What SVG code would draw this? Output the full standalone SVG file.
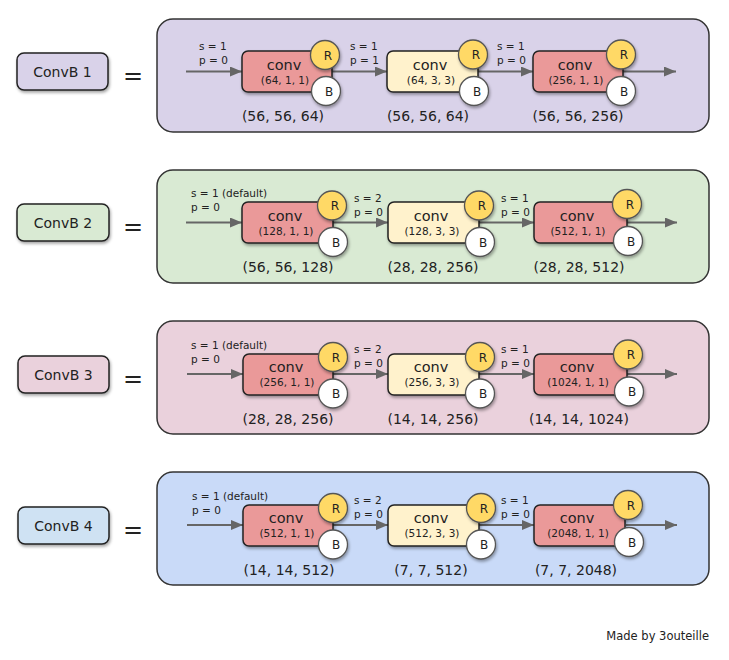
<svg xmlns="http://www.w3.org/2000/svg" width="729" height="660" viewBox="0 0 729 660">
<style>
text{font-family:"DejaVu Sans","Liberation Sans",sans-serif;fill:#222}
.panel{stroke:#333;stroke-width:1.5}
.lbl{stroke:#222;stroke-width:1.5}
.lbltxt{font-size:14px;text-anchor:middle}
.eq{font-size:24px;text-anchor:middle}
.red{fill:#ea9999;stroke:#222;stroke-width:1.5}
.yel{fill:#fff2cc;stroke:#222;stroke-width:1.5}
.r{fill:#ffd966;stroke:#555;stroke-width:1.3}
.b{fill:#ffffff;stroke:#555;stroke-width:1.3}
.conv{font-size:14.5px;text-anchor:middle}
.par{font-size:10.5px;text-anchor:middle}
.rb{font-size:12px;text-anchor:middle}
.sp{font-size:10.5px}
.dim{font-size:14px;text-anchor:middle}
.arr{stroke:#666;stroke-width:2;fill:none;marker-end:url(#ah)}
.sh{filter:url(#shadow)}
</style>
<defs>
<marker id="ah" viewBox="0 0 12 10" refX="12" refY="5" markerWidth="12" markerHeight="10" markerUnits="userSpaceOnUse" orient="auto">
<path d="M0,0 L12,5 L0,10 z" fill="#666"/>
</marker>
<filter id="shadow" x="-20%" y="-20%" width="150%" height="160%">
<feDropShadow dx="1" dy="2" stdDeviation="1.5" flood-color="#000" flood-opacity="0.35"/>
</filter>
</defs>
<rect width="729" height="660" fill="#ffffff"/>

<!-- Row 1 -->
<g id="row1">
<g id="panel1"><rect class="panel" x="157" y="19" width="552" height="113" rx="16" fill="#d9d2e9"/></g>
<g id="label1"><rect class="lbl sh" x="17" y="53" width="91" height="37" rx="7" fill="#d9d2e9"/><text class="lbltxt" x="62.5" y="77">ConvB 1</text></g>
<text class="eq" x="133" y="84">=</text>
<g id="connectors1">
<line class="arr" x1="186" y1="71.5" x2="242" y2="71.5"/>
<line class="arr" x1="332" y1="71.5" x2="387" y2="71.5"/>
<line class="arr" x1="478" y1="71.5" x2="533" y2="71.5"/>
<line class="arr" x1="623" y1="71.5" x2="676" y2="71.5"/>
<text class="sp" x="199" y="50">s = 1</text><text class="sp" x="199" y="64">p = 0</text>
<text class="sp" x="350" y="50">s = 1</text><text class="sp" x="350" y="64">p = 1</text>
<text class="sp" x="497" y="50">s = 1</text><text class="sp" x="497" y="64">p = 0</text>
</g>
<g id="conv1a"><rect class="red sh" x="242" y="51" width="90" height="41" rx="6"/><text class="conv" x="284" y="69.5">conv</text><text class="par" x="285" y="83.5">(64, 1, 1)</text>
<circle class="r sh" cx="325" cy="55" r="14.5"/><text class="rb" x="328" y="59.5">R</text>
<circle class="b sh" cx="326" cy="91" r="14.5"/><text class="rb" x="329" y="95.5">B</text>
<text class="dim" x="283" y="121">(56, 56, 64)</text></g>
<g id="conv1b"><rect class="yel sh" x="387" y="51" width="91" height="41" rx="6"/><text class="conv" x="430" y="69.5">conv</text><text class="par" x="431" y="83.5">(64, 3, 3)</text>
<circle class="r sh" cx="473" cy="54.5" r="14.5"/><text class="rb" x="476" y="59">R</text>
<circle class="b sh" cx="474" cy="91" r="14.5"/><text class="rb" x="477" y="95.5">B</text>
<text class="dim" x="428" y="121">(56, 56, 64)</text></g>
<g id="conv1c"><rect class="red sh" x="533" y="51" width="90" height="41" rx="6"/><text class="conv" x="575" y="69.5">conv</text><text class="par" x="576" y="83.5">(256, 1, 1)</text>
<circle class="r sh" cx="621" cy="54.5" r="14.5"/><text class="rb" x="624" y="59">R</text>
<circle class="b sh" cx="621" cy="91" r="14.5"/><text class="rb" x="624" y="95.5">B</text>
<text class="dim" x="578" y="121">(56, 56, 256)</text></g>
</g>

<!-- Row 2 -->
<g id="row2" transform="translate(0,151)">
<g id="panel2"><rect class="panel" x="157" y="19" width="552" height="113" rx="16" fill="#d9ead3"/></g>
<g id="label2"><rect class="lbl sh" x="17" y="53" width="92" height="37" rx="7" fill="#d9ead3"/><text class="lbltxt" x="63" y="77">ConvB 2</text></g>
<text class="eq" x="133" y="84">=</text>
<g id="connectors2">
<line class="arr" x1="186" y1="71.5" x2="242" y2="71.5"/>
<line class="arr" x1="333" y1="71.5" x2="388" y2="71.5"/>
<line class="arr" x1="479" y1="71.5" x2="534" y2="71.5"/>
<line class="arr" x1="627" y1="71.5" x2="677" y2="71.5"/>
<text class="sp" x="191" y="46">s = 1 (default)</text><text class="sp" x="191" y="60">p = 0</text>
<text class="sp" x="354" y="50.5">s = 2</text><text class="sp" x="354" y="64.5">p = 0</text>
<text class="sp" x="501" y="50.5">s = 1</text><text class="sp" x="501" y="64.5">p = 0</text>
</g>
<g id="conv2a"><rect class="red sh" x="242" y="51" width="91" height="41" rx="6"/><text class="conv" x="285" y="69.5">conv</text><text class="par" x="286" y="83.5">(128, 1, 1)</text>
<circle class="r sh" cx="332" cy="54.5" r="14.5"/><text class="rb" x="335" y="59">R</text>
<circle class="b sh" cx="333" cy="91" r="14.5"/><text class="rb" x="336" y="95.5">B</text>
<text class="dim" x="288" y="121">(56, 56, 128)</text></g>
<g id="conv2b"><rect class="yel sh" x="388" y="51" width="91" height="41" rx="6"/><text class="conv" x="431" y="69.5">conv</text><text class="par" x="432" y="83.5">(128, 3, 3)</text>
<circle class="r sh" cx="479" cy="54.5" r="14.5"/><text class="rb" x="482" y="59">R</text>
<circle class="b sh" cx="480" cy="91" r="14.5"/><text class="rb" x="483" y="95.5">B</text>
<text class="dim" x="433" y="121">(28, 28, 256)</text></g>
<g id="conv2c"><rect class="red sh" x="534" y="51" width="93" height="41" rx="6"/><text class="conv" x="577" y="69.5">conv</text><text class="par" x="578" y="83.5">(512, 1, 1)</text>
<circle class="r sh" cx="627" cy="53" r="14.5"/><text class="rb" x="630" y="57.5">R</text>
<circle class="b sh" cx="628" cy="90" r="14.5"/><text class="rb" x="631" y="94.5">B</text>
<text class="dim" x="579" y="121">(28, 28, 512)</text></g>
</g>

<!-- Row 3 -->
<g id="row3" transform="translate(0,302)">
<g id="panel3"><rect class="panel" x="157" y="19" width="552" height="113" rx="16" fill="#ead1dc"/></g>
<g id="label3"><rect class="lbl sh" x="18" y="54" width="91" height="37" rx="7" fill="#ead1dc"/><text class="lbltxt" x="63.5" y="78">ConvB 3</text></g>
<text class="eq" x="133" y="85">=</text>
<g id="connectors3">
<line class="arr" x1="187" y1="72" x2="243" y2="72"/>
<line class="arr" x1="333" y1="72" x2="388" y2="72"/>
<line class="arr" x1="479" y1="72" x2="534" y2="72"/>
<line class="arr" x1="627" y1="72" x2="677" y2="72"/>
<text class="sp" x="191" y="46.5">s = 1 (default)</text><text class="sp" x="191" y="60.5">p = 0</text>
<text class="sp" x="354" y="51">s = 2</text><text class="sp" x="354" y="65">p = 0</text>
<text class="sp" x="501" y="51">s = 1</text><text class="sp" x="501" y="65">p = 0</text>
</g>
<g id="conv3a"><rect class="red sh" x="243" y="52" width="90" height="41" rx="6"/><text class="conv" x="286" y="70">conv</text><text class="par" x="287" y="84">(256, 1, 1)</text>
<circle class="r sh" cx="333" cy="55" r="14.5"/><text class="rb" x="336" y="59.5">R</text>
<circle class="b sh" cx="333" cy="91.5" r="14.5"/><text class="rb" x="336" y="96">B</text>
<text class="dim" x="288" y="121.5">(28, 28, 256)</text></g>
<g id="conv3b"><rect class="yel sh" x="388" y="52" width="91" height="41" rx="6"/><text class="conv" x="431" y="70">conv</text><text class="par" x="432" y="84">(256, 3, 3)</text>
<circle class="r sh" cx="480" cy="55" r="14.5"/><text class="rb" x="483" y="59.5">R</text>
<circle class="b sh" cx="480" cy="91.5" r="14.5"/><text class="rb" x="483" y="96">B</text>
<text class="dim" x="433" y="121.5">(14, 14, 256)</text></g>
<g id="conv3c"><rect class="red sh" x="534" y="52" width="93" height="41" rx="6"/><text class="conv" x="577" y="70">conv</text><text class="par" x="578" y="84">(1024, 1, 1)</text>
<circle class="r sh" cx="628" cy="52.5" r="14.5"/><text class="rb" x="631" y="57">R</text>
<circle class="b sh" cx="629" cy="89.5" r="14.5"/><text class="rb" x="632" y="94">B</text>
<text class="dim" x="579" y="121.5">(14, 14, 1024)</text></g>
</g>

<!-- Row 4 -->
<g id="row4" transform="translate(0,453)">
<g id="panel4"><rect class="panel" x="157" y="19" width="552" height="113" rx="16" fill="#c9daf8"/></g>
<g id="label4"><rect class="lbl sh" x="18" y="54" width="91" height="37" rx="7" fill="#cfe2f3"/><text class="lbltxt" x="63.5" y="78">ConvB 4</text></g>
<text class="eq" x="133" y="85">=</text>
<g id="connectors4">
<line class="arr" x1="187" y1="72" x2="243" y2="72"/>
<line class="arr" x1="333" y1="72" x2="388" y2="72"/>
<line class="arr" x1="479" y1="72" x2="534" y2="72"/>
<line class="arr" x1="626" y1="72" x2="677" y2="72"/>
<text class="sp" x="192" y="47">s = 1 (default)</text><text class="sp" x="192" y="61">p = 0</text>
<text class="sp" x="354" y="51">s = 2</text><text class="sp" x="354" y="65">p = 0</text>
<text class="sp" x="501" y="51">s = 1</text><text class="sp" x="501" y="65">p = 0</text>
</g>
<g id="conv4a"><rect class="red sh" x="243" y="52" width="90" height="41" rx="6"/><text class="conv" x="286" y="70">conv</text><text class="par" x="287" y="84">(512, 1, 1)</text>
<circle class="r sh" cx="333" cy="55" r="14.5"/><text class="rb" x="336" y="59.5">R</text>
<circle class="b sh" cx="333" cy="91.5" r="14.5"/><text class="rb" x="336" y="96">B</text>
<text class="dim" x="289" y="121.5">(14, 14, 512)</text></g>
<g id="conv4b"><rect class="yel sh" x="388" y="52" width="91" height="41" rx="6"/><text class="conv" x="431" y="70">conv</text><text class="par" x="432" y="84">(512, 3, 3)</text>
<circle class="r sh" cx="481" cy="55" r="14.5"/><text class="rb" x="484" y="59.5">R</text>
<circle class="b sh" cx="481" cy="91.5" r="14.5"/><text class="rb" x="484" y="96">B</text>
<text class="dim" x="431" y="121.5">(7, 7, 512)</text></g>
<g id="conv4c"><rect class="red sh" x="534" y="52" width="91" height="41" rx="6"/><text class="conv" x="577" y="70">conv</text><text class="par" x="578" y="84">(2048, 1, 1)</text>
<circle class="r sh" cx="628" cy="52" r="14.5"/><text class="rb" x="631" y="56.5">R</text>
<circle class="b sh" cx="629" cy="89" r="14.5"/><text class="rb" x="632" y="93.5">B</text>
<text class="dim" x="576" y="121.5">(7, 7, 2048)</text></g>
</g>

<text x="709" y="640" style="font-size:11.5px;text-anchor:end">Made by 3outeille</text>
</svg>
